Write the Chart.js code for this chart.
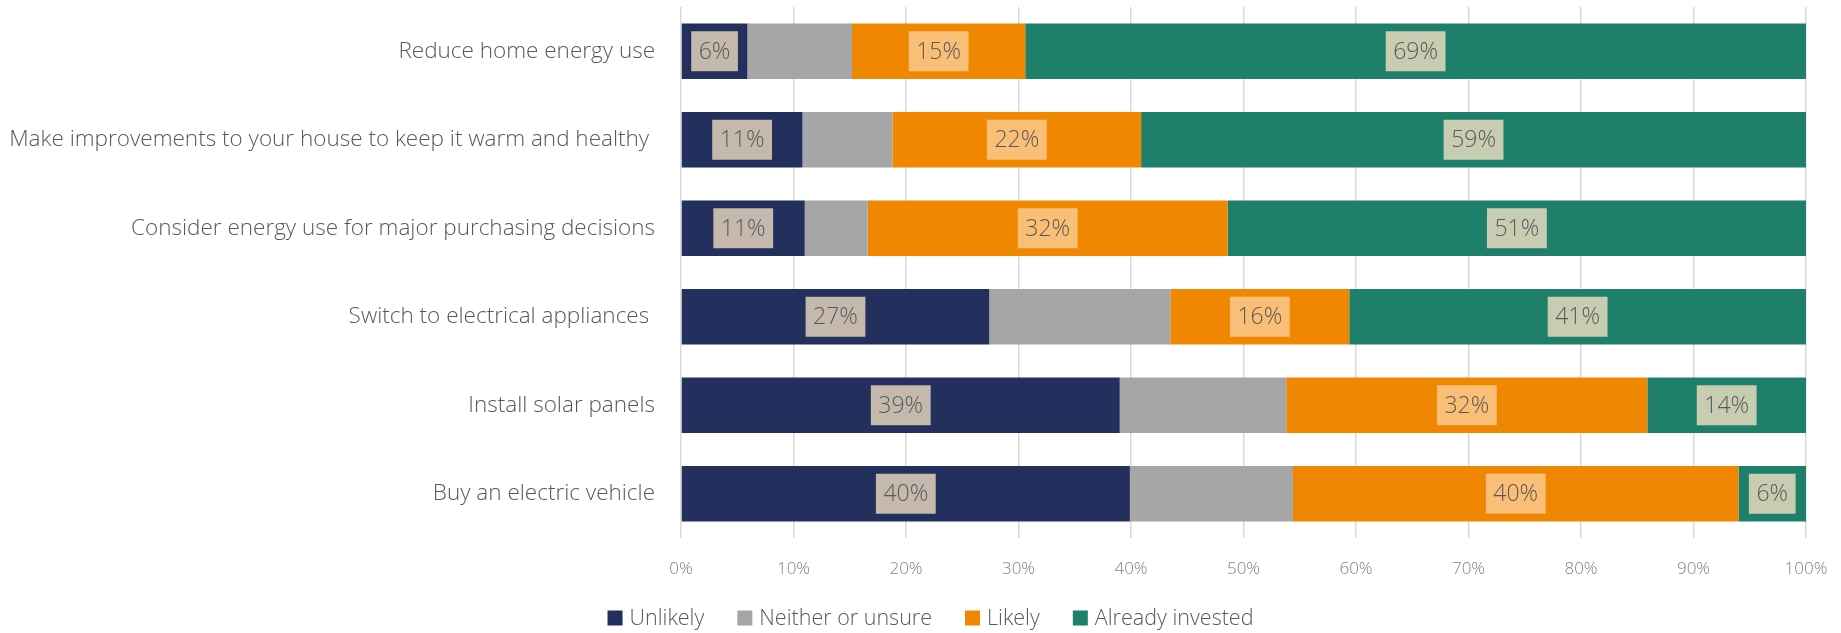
<!DOCTYPE html>
<html>
<head>
<meta charset="utf-8">
<title>Energy investment intentions</title>
<script src="https://cdn.jsdelivr.net/npm/chart.js@4.4.1/dist/chart.umd.min.js"></script>
<style>
    html, body { margin: 0; padding: 0; background: #fff; }
    canvas { display: block; }
</style>
</head>
<body>
<canvas id="myChart" width="1841" height="633"></canvas>
<script>
// Survey actions, one bar each (trailing spaces are in the source labels)
const actions = [
    'Reduce home energy use',
    'Make improvements to your house to keep it warm and healthy ',
    'Consider energy use for major purchasing decisions',
    'Switch to electrical appliances ',
    'Install solar panels',
    'Buy an electric vehicle'
];

// Share of respondents, percent
const unlikely = [5.9, 10.8, 11.0, 27.4, 39.0, 39.9];
const neitherUnsure = [9.3, 8.0, 5.6, 16.1, 14.8, 14.5];
const likely = [15.4, 22.1, 32.0, 15.9, 32.1, 39.6];
const alreadyInvested = [69.4, 59.1, 51.4, 40.6, 14.1, 6.0];

const percentTicks = [0, 10, 20, 30, 40, 50, 60, 70, 80, 90, 100];

Chart.defaults.font.family = '"Open Sans", sans-serif';

// Boxed percentage in the middle of each segment
const segmentLabels = {
    id: 'segmentLabels',
    afterDatasetsDraw(chart) {
        const ctx = chart.ctx;
        ctx.save();
        ctx.font = '300 23px "Open Sans"';
        ctx.textAlign = 'center';
        ctx.textBaseline = 'middle';
        chart.data.datasets.forEach((ds, i) => {
            if (!ds.labelBox) return;
            chart.getDatasetMeta(i).data.forEach((bar, j) => {
                const text = Math.round(ds.data[j]) + '%';
                const cx = (bar.x + bar.base) / 2;
                const w = ctx.measureText(text).width + 15;
                const h = 40;
                ctx.fillStyle = ds.labelBox;
                ctx.fillRect(cx - w / 2, bar.y - h / 2, w, h);
                ctx.fillStyle = '#595959';
                ctx.fillText(text, cx, bar.y + 1);
            });
        });
        ctx.restore();
    }
};

// Legend row under the axis
const bottomLegend = {
    id: 'bottomLegend',
    afterDraw(chart) {
        const ctx = chart.ctx;
        const box = 15, gap = 7, spacing = 33, y = 618;
        ctx.save();
        ctx.font = '300 21.5px "Open Sans"';
        ctx.textBaseline = 'middle';
        const items = chart.data.datasets.map(ds => ({
            label: ds.label,
            color: ds.backgroundColor,
            w: box + gap + ctx.measureText(ds.label).width
        }));
        const total = items.reduce((s, it) => s + it.w, 0) + spacing * (items.length - 1);
        let x = chart.width / 2 + 10 - total / 2;
        items.forEach(it => {
            ctx.fillStyle = it.color;
            ctx.fillRect(x, y - box / 2, box, box);
            ctx.fillStyle = '#595959';
            ctx.fillText(it.label, x + box + gap, y + 1);
            x += it.w + spacing;
        });
        ctx.restore();
    }
};

const ctx = document.getElementById('myChart').getContext('2d');

new Chart(ctx, {
    type: 'bar',
    data: {
        labels: actions,
        datasets: [
            { label: 'Unlikely', data: unlikely, backgroundColor: '#232f5c', labelBox: '#c5b8ad' },
            { label: 'Neither or unsure', data: neitherUnsure, backgroundColor: '#a6a6a6', labelBox: null },
            { label: 'Likely', data: likely, backgroundColor: '#f08700', labelBox: '#f9bf77' },
            { label: 'Already invested', data: alreadyInvested, backgroundColor: '#1e7f6a', labelBox: '#c8cdb2' }
        ]
    },
    options: {
        indexAxis: 'y',
        responsive: false,
        animation: false,
        barPercentage: 0.627,
        categoryPercentage: 1,
        layout: {
            padding: { top: 7, right: 35, left: 0, bottom: 0 }
        },
        plugins: {
            legend: { display: false },
            tooltip: { enabled: false }
        },
        scales: {
            x: {
                stacked: true,
                min: 0,
                max: 100,
                grid: { color: '#d9d9d9', lineWidth: 1.5, drawTicks: false },
                border: { display: false },
                afterBuildTicks: scale => {
                    scale.ticks = percentTicks.map(v => ({ value: v }));
                },
                ticks: {
                    padding: 21,
                    color: '#808080',
                    font: { size: 17, weight: '300' },
                    callback: v => v + '%'
                },
                afterFit: scale => {
                    scale.height = 95;
                    scale.paddingLeft = 0;
                    scale.paddingRight = 0;
                }
            },
            y: {
                stacked: true,
                grid: { display: false, drawTicks: false },
                border: { display: false },
                ticks: {
                    padding: 26,
                    color: '#595959',
                    font: { size: 22.5, weight: '300' }
                },
                afterFit: scale => {
                    scale.width = 681;
                    scale.paddingTop = 0;
                    scale.paddingBottom = 0;
                }
            }
        }
    },
    plugins: [segmentLabels, bottomLegend]
});
</script>
</body>
</html>
